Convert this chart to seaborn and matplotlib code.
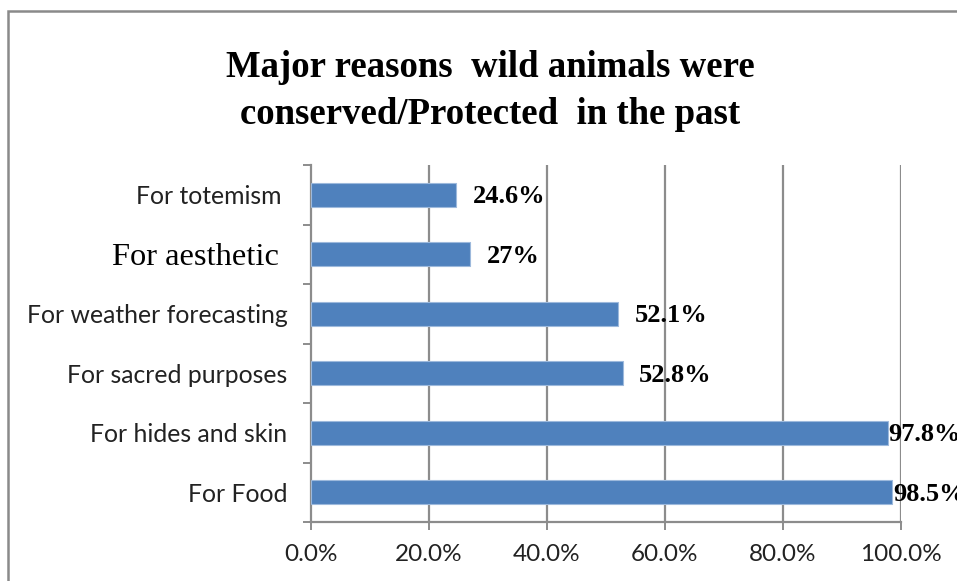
import matplotlib
matplotlib.use("Agg")
import matplotlib.pyplot as plt
import matplotlib.patches as mpatches
from matplotlib.ticker import FixedLocator, FuncFormatter
import seaborn as sns
import pandas as pd

# Survey results: share of respondents citing each reason
categories = ["For totemism ", "For aesthetic ", "For weather forecasting",
              "For sacred purposes", "For hides and skin", "For Food"]
values = [24.6, 27.0, 52.1, 52.8, 97.8, 98.5]
value_labels = ["24.6%", "27%", "52.1%", "52.8%", "97.8%", "98.5%"]
x_ticks = [0, 20, 40, 60, 80, 100]
title = "Major reasons  wild animals were\nconserved/Protected  in the past"

sns.set_theme(style="white")
plt.rcParams["font.family"] = ["Lato", "DejaVu Sans"]

df = pd.DataFrame({"reason": categories, "pct": values})

W, H = 957, 581
fig = plt.figure(figsize=(W / 100, H / 100), dpi=100)
ax = fig.add_axes([311 / W, 1 - 522 / H, 590 / W, 357 / H])

bar_color = "#4F81BD"
grid_color = "#8C8C8C"

sns.barplot(data=df, x="pct", y="reason", orient="h", color=bar_color,
            width=0.4, edgecolor="#9DB9DC", linewidth=0.8, saturation=1,
            ax=ax, zorder=3)

ax.set_xlim(0, 100)
ax.set_ylim(len(categories) - 0.5, -0.5)
ax.set_xlabel("")
ax.set_ylabel("")

# vertical gridlines
ax.xaxis.set_major_locator(FixedLocator(x_ticks))
ax.xaxis.set_major_formatter(FuncFormatter(lambda v, _: f"{v:.1f}%"))
for xv in x_ticks[1:]:
    ax.axvline(xv, color=grid_color, lw=1.6, zorder=1)

for side in ["top", "right"]:
    ax.spines[side].set_visible(False)
for side in ["left", "bottom"]:
    ax.spines[side].set_color(grid_color)
    ax.spines[side].set_linewidth(1.6)

ax.tick_params(axis="x", direction="out", length=6, width=1.4, color=grid_color,
               labelsize=17.5, labelcolor="#222222", pad=9.5, bottom=True)
# category boundaries carry the y ticks
ax.yaxis.set_minor_locator(FixedLocator([i - 0.5 for i in range(len(categories) + 1)]))
ax.tick_params(axis="y", which="minor", direction="out", length=6, width=1.4,
               color=grid_color, left=True)
ax.tick_params(axis="y", which="major", length=0, labelsize=17.8,
               labelcolor="#222222", pad=17)

for lbl in ax.get_yticklabels():
    if lbl.get_text().startswith("For aesthetic"):
        lbl.set_fontfamily(["Liberation Serif", "DejaVu Serif"])
        lbl.set_fontsize(23.4)
        lbl.set_color("black")

# value labels at the bar ends
for i, (v, txt) in enumerate(zip(values, value_labels)):
    off = 12 if v < 90 else 0.5
    ax.annotate(txt, xy=(v, i), xytext=(off, -1.5), textcoords="offset points",
                ha="left", va="center", fontsize=19, fontweight="bold",
                family=["Liberation Serif", "DejaVu Serif"], color="black",
                annotation_clip=False, zorder=5)

fig.text(490 / W, 1 - 91 / H, title, ha="center", va="center", fontsize=26.5,
         fontweight="bold", family=["Liberation Serif", "DejaVu Serif"],
         linespacing=1.45, color="black")

# outer chart frame
frame = mpatches.Rectangle((8 / W, -0.2), 1.2, 1.2 + (1 - 11 / H) - 1.0,
                           transform=fig.transFigure, fill=False,
                           edgecolor="#8A8A8A", lw=1.8, clip_on=False)
fig.patches.append(frame)

fig.savefig("out.png", dpi=100)
